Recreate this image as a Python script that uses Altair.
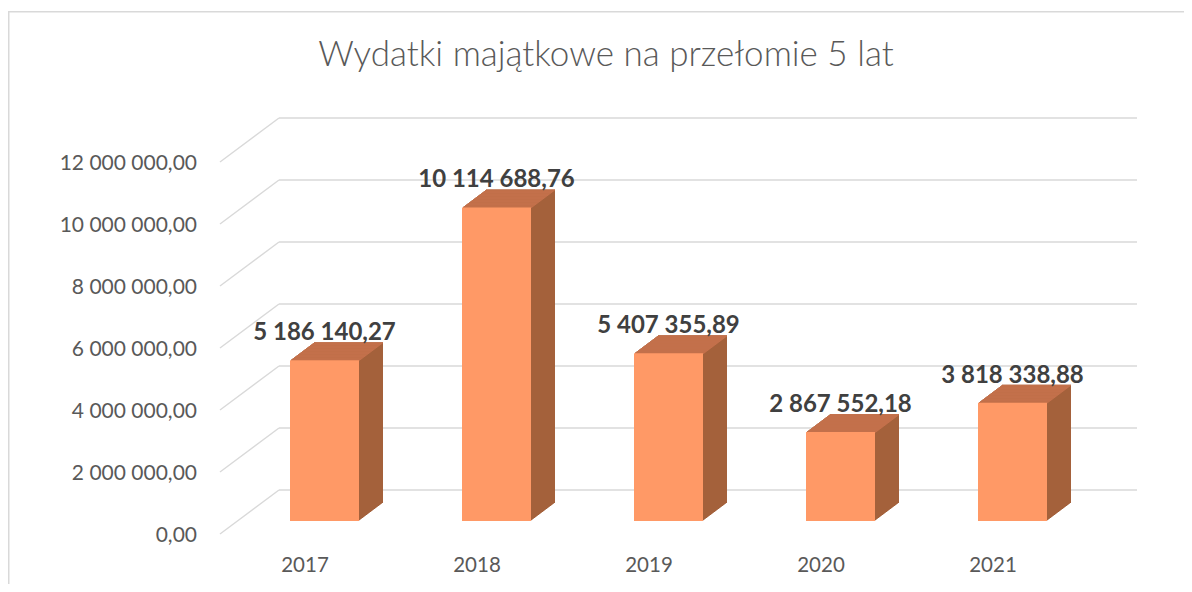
import altair as alt
import pandas as pd

# ---- data ----
years = ["2017", "2018", "2019", "2020", "2021"]
values = [5186140.27, 10114688.76, 5407355.89, 2867552.18, 3818338.88]
ticks = [0, 2000000, 4000000, 6000000, 8000000, 10000000, 12000000]
title_text = "Wydatki majątkowe na przełomie 5 lat"


def pl(v):
    return f"{v:,.2f}".replace(",", " ").replace(".", ",")


df = pd.DataFrame({"year": years, "value": values, "label": [pl(v) for v in values]})
dft = pd.DataFrame({"t": ticks, "tlabel": [pl(t) for t in ticks]})

# ---- styling ----
FRONT = "#FF9966"
TOP = "#C3714B"
SIDE = "#A4613B"
GRID = "#D9D9D9"
TXT = "#595959"
LBL = "#404040"
FONT = "Lato"

W, H = 1176, 573
xs = alt.Scale(domain=years, range=[230.5, 1090.5], paddingInner=0, paddingOuter=0)
ys = alt.Scale(domain=[0, 12000000], range=[510, 138], nice=False, zero=True)

X = alt.X("year:N", scale=xs, axis=None)
Y = alt.Y("value:Q", scale=ys, axis=None)

BAR_W = 69
N = 24           # depth steps
DX, DY = 1.0, 0.75

layers = []

# back-wall gridlines
layers.append(
    alt.Chart(dft).mark_rule(color=GRID, strokeWidth=1.4, xOffset=-45.5, x2Offset=124.5, yOffset=-31)
    .encode(x=alt.XDatum(years[0], type="nominal", scale=xs, axis=None),
            x2=alt.X2Datum(years[-1]),
            y=alt.Y("t:Q", scale=ys, axis=None))
)
# side-wall diagonals
layers.append(
    alt.Chart(dft).mark_rule(color=GRID, strokeWidth=1.4, xOffset=-104.5, x2Offset=-45.5,
                             yOffset=13, y2Offset=-31)
    .encode(x=alt.XDatum(years[0], type="nominal", scale=xs, axis=None),
            x2=alt.X2Datum(years[0]),
            y=alt.Y("t:Q", scale=ys, axis=None),
            y2=alt.Y2("t:Q"))
)

# extruded sides
for i in range(N, 0, -1):
    layers.append(
        alt.Chart(df).mark_bar(color=SIDE, size=BAR_W, xOffset=i * DX,
                               yOffset=-i * DY, y2Offset=-i * DY)
        .encode(x=X, y=Y, y2=alt.Y2Datum(0))
    )
# top faces
for i in range(1, N + 1):
    layers.append(
        alt.Chart(df).mark_bar(color=TOP, size=BAR_W, xOffset=i * DX,
                               yOffset=-i * DY, y2Offset=-i * DY + 1.3)
        .encode(x=X, y=Y, y2=alt.Y2("value:Q"))
    )
# front faces
layers.append(
    alt.Chart(df).mark_bar(color=FRONT, size=BAR_W).encode(x=X, y=Y, y2=alt.Y2Datum(0))
)

# value labels
layers.append(
    alt.Chart(df).mark_text(font=FONT, fontSize=24, fontWeight="bold", color=LBL,
                            baseline="alphabetic", yOffset=-20)
    .encode(x=X, y=Y, text="label:N")
)
# year labels
layers.append(
    alt.Chart(df).mark_text(font=FONT, fontSize=20.5, color=TXT, baseline="middle",
                            xOffset=-19.5, yOffset=45)
    .encode(x=X, y=alt.YDatum(0, type="quantitative", scale=ys, axis=None), text="year:N")
)
# y tick labels
layers.append(
    alt.Chart(dft).mark_text(font=FONT, fontSize=21, color=TXT, align="right",
                             baseline="middle", yOffset=14.5)
    .encode(x=alt.value(189), y=alt.Y("t:Q", scale=ys, axis=None), text="tlabel:N")
)
# title
layers.append(
    alt.Chart(pd.DataFrame({"t": [title_text]})).mark_text(
        font=FONT, fontSize=35, fontWeight=300, color=TXT, align="center", baseline="alphabetic")
    .encode(x=alt.value(598), y=alt.value(55), text="t:N")
)
# chart frame (left and top edges)
frame = pd.DataFrame({"k": [0]})
layers.append(
    alt.Chart(frame).mark_rule(color=GRID, strokeWidth=1.5)
    .encode(x=alt.value(0.75), y=alt.value(0), y2=alt.value(H))
)
layers.append(
    alt.Chart(frame).mark_rule(color=GRID, strokeWidth=1.5)
    .encode(x=alt.value(0), x2=alt.value(W), y=alt.value(0.75))
)

chart = (
    alt.layer(*layers)
    .properties(width=W, height=H, padding={"left": 0, "top": 3, "right": 0, "bottom": 0},
                autosize=alt.AutoSizeParams(type="none"), background="white")
    .configure_view(stroke=None)
)

chart.save("out.html", embed_options={"renderer": "svg", "actions": False})
